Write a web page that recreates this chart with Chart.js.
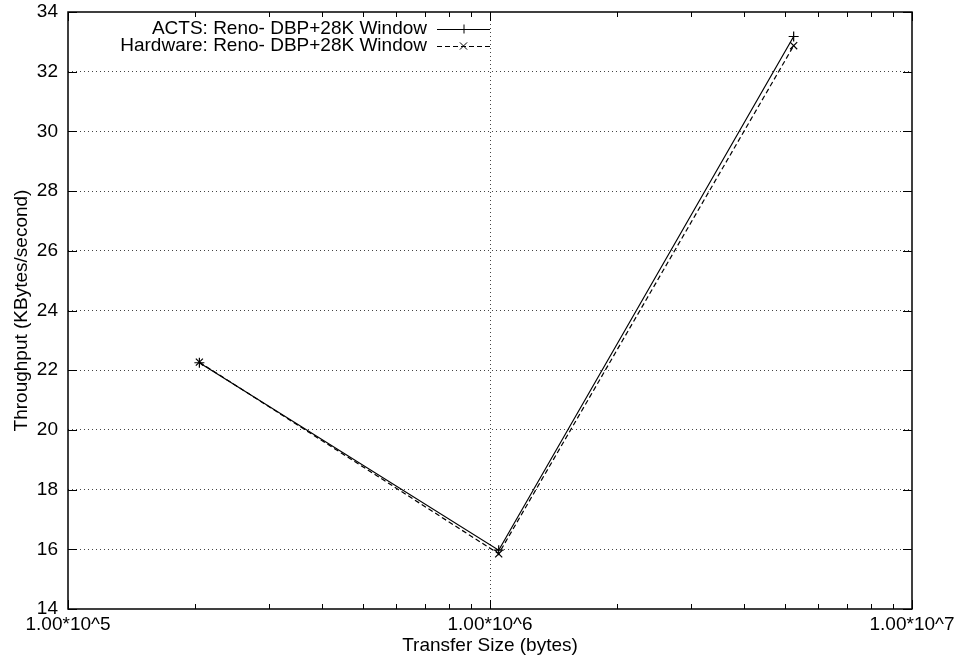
<!DOCTYPE html>
<html>
<head>
<meta charset="utf-8">
<script src="https://cdn.jsdelivr.net/npm/chart.js@4.4.1/dist/chart.umd.min.js"></script>
<style>
  html, body { margin: 0; padding: 0; background: #fff; overflow: hidden; }
  canvas { display: block; }
</style>
</head>
<body>
<canvas id="myChart" width="958" height="657"></canvas>
<script>
const transferSizes = [204800, 1048576, 5242880];
const actsThroughput = [22.25, 15.97, 33.18];
const hardwareThroughput = [22.27, 15.85, 32.87];
const seriesLabels = ['ACTS: Reno- DBP+28K Window', 'Hardware: Reno- DBP+28K Window'];
const xTickValues = [1e5, 2e5, 3e5, 4e5, 5e5, 6e5, 7e5, 8e5, 9e5,
                     1e6, 2e6, 3e6, 4e6, 5e6, 6e6, 7e6, 8e6, 9e6, 1e7];
const yTickValues = [14, 16, 18, 20, 22, 24, 26, 28, 30, 32, 34];

const FONT = { family: 'Liberation Sans, Arial, sans-serif', size: 19 };

function isPow10(v) {
    const e = Math.log10(v);
    return Math.abs(e - Math.round(e)) < 1e-9;
}

// frame, inward ticks and the key, gnuplot style
const framePlugin = {
    id: 'frame',
    afterDraw(chart) {
        const { ctx, chartArea: a, scales } = chart;
        ctx.save();
        ctx.strokeStyle = '#000';
        ctx.lineWidth = 1.5;
        ctx.setLineDash([]);
        ctx.strokeRect(a.left, a.top, a.right - a.left, a.bottom - a.top);

        ctx.lineWidth = 1;
        ctx.beginPath();
        xTickValues.forEach(v => {
            const px = Math.round(scales.x.getPixelForValue(v)) + 0.5;
            const len = isPow10(v) ? 9 : 5;
            ctx.moveTo(px, a.bottom); ctx.lineTo(px, a.bottom - len);
            ctx.moveTo(px, a.top); ctx.lineTo(px, a.top + len);
        });
        yTickValues.forEach(v => {
            const py = Math.round(scales.y.getPixelForValue(v)) + 0.5;
            ctx.moveTo(a.left, py); ctx.lineTo(a.left + 9, py);
            ctx.moveTo(a.right, py); ctx.lineTo(a.right - 9, py);
        });
        ctx.stroke();

        // key
        ctx.font = FONT.size + 'px ' + FONT.family;
        ctx.fillStyle = '#000';
        ctx.textAlign = 'right';
        ctx.textBaseline = 'middle';
        const textRight = 427, x0 = 437, x1 = 490;
        chart.data.datasets.forEach((ds, i) => {
            const y = a.top + 17 + i * 17;
            ctx.fillText(ds.label, textRight, y);
            ctx.beginPath();
            ctx.setLineDash(ds.borderDash || []);
            ctx.lineWidth = 1;
            ctx.moveTo(x0, y + 0.5); ctx.lineTo(x1, y + 0.5);
            ctx.stroke();
            ctx.setLineDash([]);
            const mx = (x0 + x1) / 2, r = 4.5;
            ctx.beginPath();
            if (ds.pointStyle === 'cross') {
                ctx.moveTo(mx - r, y + 0.5); ctx.lineTo(mx + r, y + 0.5);
                ctx.moveTo(mx + 0.5, y - r); ctx.lineTo(mx + 0.5, y + r);
            } else {
                ctx.moveTo(mx - r * 0.8, y - r * 0.8); ctx.lineTo(mx + r * 0.8, y + r * 0.8);
                ctx.moveTo(mx - r * 0.8, y + r * 0.8); ctx.lineTo(mx + r * 0.8, y - r * 0.8);
            }
            ctx.stroke();
        });
        ctx.restore();
    }
};

const ctx = document.getElementById('myChart');

new Chart(ctx, {
    type: 'line',
    data: {
        datasets: [{
            label: seriesLabels[0],
            data: transferSizes.map((s, i) => ({ x: s, y: actsThroughput[i] })),
            borderColor: '#000',
            borderWidth: 1.2,
            pointStyle: 'cross',
            pointRadius: 5,
            pointBorderColor: '#000',
            pointBorderWidth: 1.2,
            fill: false,
            tension: 0
        }, {
            label: seriesLabels[1],
            data: transferSizes.map((s, i) => ({ x: s, y: hardwareThroughput[i] })),
            borderColor: '#000',
            borderWidth: 1.2,
            borderDash: [5, 3],
            pointStyle: 'crossRot',
            pointRadius: 5,
            pointBorderColor: '#000',
            pointBorderWidth: 1.2,
            fill: false,
            tension: 0
        }]
    },
    options: {
        responsive: false,
        animation: false,
        devicePixelRatio: 1,
        layout: { padding: { top: 12, right: 46, left: 0, bottom: 0 } },
        plugins: {
            legend: { display: false },
            tooltip: { enabled: false }
        },
        scales: {
            x: {
                type: 'logarithmic',
                min: 1e5,
                max: 1e7,
                afterBuildTicks: scale => {
                    scale.ticks = xTickValues.map(v => ({ value: v, major: isPow10(v) }));
                },
                afterFit: scale => {
                    scale.height = 48;
                    scale.paddingLeft = 0;
                    scale.paddingRight = 0;
                },
                ticks: {
                    autoSkip: false,
                    maxRotation: 0,
                    minRotation: 0,
                    padding: 4,
                    color: '#000',
                    font: FONT,
                    callback: v => isPow10(v) ? '1.00*10^' + Math.round(Math.log10(v)) : ''
                },
                grid: {
                    drawTicks: false,
                    color: c => (c.tick && c.tick.value === 1e6) ? '#444' : 'rgba(0,0,0,0)',
                    lineWidth: 1
                },
                border: { display: false, dash: [1, 3] },
                title: {
                    display: true,
                    text: 'Transfer Size (bytes)',
                    color: '#000',
                    font: FONT,
                    padding: { top: 0, bottom: 0 }
                }
            },
            y: {
                min: 14,
                max: 34,
                afterBuildTicks: scale => {
                    scale.ticks = yTickValues.map(v => ({ value: v }));
                },
                afterFit: scale => {
                    scale.width = 68;
                    scale.paddingTop = 0;
                    scale.paddingBottom = 0;
                },
                ticks: {
                    autoSkip: false,
                    padding: 10,
                    color: '#000',
                    font: FONT
                },
                grid: {
                    drawTicks: false,
                    color: c => (c.tick && c.tick.value > 14 && c.tick.value < 34) ? '#444' : 'rgba(0,0,0,0)',
                    lineWidth: 1
                },
                border: { display: false, dash: [1, 3] },
                title: {
                    display: true,
                    text: 'Throughput (KBytes/second)',
                    color: '#000',
                    font: FONT,
                    padding: { top: 10, bottom: 0 }
                }
            }
        }
    },
    plugins: [framePlugin]
});
</script>
</body>
</html>
